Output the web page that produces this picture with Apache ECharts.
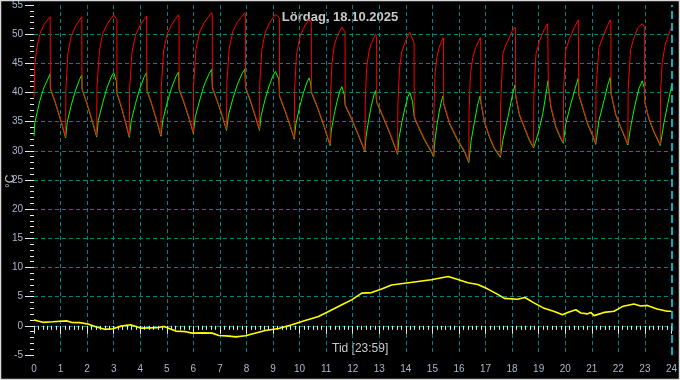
<!DOCTYPE html>
<html>
<head>
<meta charset="utf-8">
<script src="https://cdn.jsdelivr.net/npm/echarts@6/dist/echarts.min.js"></script>
<style>
html,body{margin:0;padding:0;background:#000;}
#c{width:680px;height:380px;}
</style>
</head>
<body>
<div id="c"></div>
<script>
// Title / labels
const titleText = 'Lördag, 18.10.2025';
const timeLabel = 'Tid [23:59]';
const unitLabel = '°C';
const hourTicks = [0, 24, 1];          // min, max, step (hours)
const tempTicks = [-5, 55, 5];         // min, max, step (°C)
const nowHour = 24;

// Red series [hour, °C]
const redSeries = [
[0,39.2],[0.03,44.5],[0.09,47.2],[0.22,50.0],[0.37,51.6],[0.52,52.5],[0.61,53.0],[0.615,40.8],
[0.81,38.3],[1.0,35.5],[1.19,32.4],
[1.20,40.5],[1.28,46.8],[1.40,49.7],[1.56,51.3],[1.71,52.4],[1.80,53.0],[1.805,40.7],
[1.99,38.3],[2.17,35.6],[2.36,32.6],
[2.37,40.8],[2.46,47.0],[2.58,50.0],[2.74,51.6],[2.90,52.7],[3.00,53.3],[3.12,52.5],[3.125,40.0],
[3.28,37.8],[3.43,35.3],[3.59,32.5],
[3.60,40.6],[3.69,46.9],[3.82,49.8],[3.98,51.4],[4.14,52.5],[4.24,53.1],[4.25,40.5],
[4.43,38.2],[4.60,35.6],[4.78,32.7],
[4.79,40.8],[4.88,47.1],[5.01,50.0],[5.18,51.6],[5.34,52.7],[5.44,53.3],[5.46,52.9],[5.465,40.7],
[5.64,38.5],[5.82,36.0],[6.00,33.2],
[6.01,41.3],[6.10,47.5],[6.24,50.4],[6.41,52.0],[6.59,53.1],[6.69,53.7],[6.71,53.3],[6.715,41.0],
[6.89,38.8],[7.07,36.4],[7.25,33.7],
[7.26,41.6],[7.35,47.6],[7.49,50.5],[7.66,52.1],[7.84,53.1],[7.94,53.7],[7.96,53.3],[7.965,41.0],
[8.14,38.8],[8.31,36.4],[8.49,33.7],
[8.50,41.5],[8.58,47.4],[8.70,50.2],[8.85,51.8],[9.00,52.8],[9.09,53.4],[9.24,52.8],[9.245,39.5],
[9.43,37.3],[9.61,34.9],[9.80,32.2],
[9.81,40.2],[9.88,46.4],[10.00,49.3],[10.14,51.0],[10.28,52.0],[10.36,52.6],[10.44,52.0],[10.445,40.2],
[10.68,37.5],[10.91,34.5],[11.15,31.1],
[11.16,39.0],[11.22,45.1],[11.30,48.0],[11.41,49.6],[11.52,50.6],[11.59,51.2],[11.71,50.4],[11.715,38.0],
[11.96,35.6],[12.21,32.9],[12.46,30.0],
[12.47,37.9],[12.52,43.9],[12.60,46.8],[12.70,48.4],[12.80,49.4],[12.86,50.0],[12.90,49.6],[12.905,38.5],
[13.16,35.8],[13.42,32.9],[13.69,29.6],
[13.70,37.8],[13.76,44.0],[13.85,47.0],[13.97,48.6],[14.08,49.7],[14.15,50.3],[14.31,48.5],[14.315,36.0],
[14.46,34.4],[14.71,32.0],[14.96,30.0],[15.05,29.2],
[15.06,37.2],[15.10,43.3],[15.17,46.1],[15.26,47.8],[15.35,48.8],[15.40,49.4],[15.42,49.0],[15.425,38.2],
[15.65,34.8],[15.96,31.9],[16.21,30.0],[16.37,28.2],
[16.38,36.6],[16.43,43.0],[16.52,46.0],[16.63,47.7],[16.74,48.8],[16.80,49.4],[16.82,49.0],[16.825,38.5],
[16.96,35.1],[17.15,32.5],[17.34,30.5],[17.56,29.1],
[17.57,38.0],[17.65,46.6],[17.75,48.0],[17.84,48.8],[18.02,50.7],[18.11,51.2],[18.13,50.8],[18.135,39.6],
[18.27,36.4],[18.46,34.2],[18.65,32.0],[18.81,30.7],
[18.82,39.5],[18.90,46.6],[19.03,48.8],[19.21,50.8],[19.34,51.8],[19.36,51.5],[19.365,41.2],
[19.46,37.7],[19.65,34.2],[19.84,32.2],[19.93,31.5],
[19.94,40.5],[20.02,47.3],[20.15,49.1],[20.34,51.1],[20.49,52.4],[20.51,52.2],[20.515,39.7],
[20.65,37.7],[20.84,34.8],[21.03,32.8],[21.15,31.3],
[21.16,40.5],[21.27,47.7],[21.46,50.0],[21.59,51.4],[21.69,52.4],[21.72,52.0],[21.725,40.0],
[21.90,36.4],[22.09,34.2],[22.27,32.2],[22.36,31.2],
[22.37,40.5],[22.46,47.3],[22.59,49.4],[22.74,51.1],[22.90,51.8],[22.98,51.2],[22.985,38.5],
[23.15,35.7],[23.34,33.4],[23.52,31.7],[23.58,31.1],
[23.59,40.0],[23.65,45.1],[23.77,48.3],[23.90,50.0],[24.0,51.2]
];

// Green series [hour, °C]
const greenSeries = [
[0,32.5],[0.03,34.8],[0.22,38.6],[0.37,40.8],[0.52,42.3],[0.61,43.2],[0.62,40.6],
[0.81,38.1],[1.0,35.3],[1.19,32.2],
[1.25,34.9],[1.40,37.8],[1.56,40.3],[1.71,42.2],[1.80,43.0],[1.81,40.5],
[1.99,38.1],[2.17,35.4],[2.36,32.4],
[2.42,35.2],[2.58,38.1],[2.74,40.7],[2.90,42.6],[3.00,43.4],[3.10,42.0],[3.125,39.8],
[3.28,37.6],[3.43,35.1],[3.59,32.3],
[3.66,35.1],[3.82,38.1],[3.98,40.6],[4.14,42.6],[4.24,43.4],[4.255,40.3],
[4.43,38.0],[4.60,35.4],[4.78,32.5],
[4.85,35.3],[5.01,38.2],[5.18,40.8],[5.34,42.7],[5.44,43.5],[5.465,40.5],
[5.64,38.3],[5.82,35.8],[6.00,33.0],
[6.07,35.8],[6.24,38.7],[6.41,41.3],[6.59,43.2],[6.69,44.0],[6.715,40.8],
[6.89,38.6],[7.07,36.2],[7.25,33.5],
[7.32,36.1],[7.49,39.0],[7.66,41.4],[7.84,43.3],[7.94,44.0],[7.965,40.8],
[8.14,38.6],[8.31,36.2],[8.49,33.5],
[8.55,36.0],[8.70,38.8],[8.85,41.1],[9.00,42.9],[9.09,43.6],[9.22,42.3],[9.245,39.3],
[9.43,37.1],[9.61,34.7],[9.80,32.0],
[9.86,34.6],[10.00,37.5],[10.14,39.9],[10.28,41.8],[10.36,42.5],[10.42,41.5],[10.445,40.0],
[10.68,37.3],[10.91,34.3],[11.15,30.9],
[11.19,33.4],[11.30,36.2],[11.41,38.5],[11.52,40.3],[11.59,41.0],[11.69,39.5],[11.715,37.8],
[11.96,35.4],[12.21,32.7],[12.46,29.8],
[12.50,32.4],[12.60,35.3],[12.70,37.7],[12.80,39.6],[12.86,40.3],[12.905,38.3],
[13.16,35.6],[13.42,32.7],[13.69,29.4],
[13.74,32.1],[13.85,34.9],[13.97,37.4],[14.08,39.3],[14.15,40.0],[14.25,38.5],[14.29,38.3],[14.315,35.8],
[14.46,34.2],[14.71,31.8],[14.96,29.8],[15.05,29.0],
[15.09,31.6],[15.17,34.4],[15.26,36.8],[15.35,38.7],[15.40,39.4],[15.425,38.0],
[15.65,34.6],[15.96,31.7],[16.21,29.8],[16.37,28.0],
[16.46,31.8],[16.59,35.1],[16.71,38.1],[16.80,39.4],[16.825,38.3],
[16.96,34.9],[17.15,32.3],[17.34,30.3],[17.56,28.9],
[17.65,31.8],[17.84,35.7],[18.02,39.7],[18.11,41.3],[18.135,39.4],
[18.27,36.2],[18.46,34.0],[18.65,31.8],[18.81,30.5],
[18.97,32.8],[19.15,36.2],[19.31,40.7],[19.35,42.0],[19.365,41.0],
[19.46,37.5],[19.65,34.0],[19.84,32.0],[19.93,31.3],
[20.02,34.6],[20.21,38.0],[20.40,41.1],[20.49,42.4],[20.515,39.5],
[20.65,37.5],[20.84,34.6],[21.03,32.6],[21.15,31.1],
[21.27,35.2],[21.46,38.6],[21.61,41.4],[21.70,42.6],[21.725,39.8],
[21.90,36.2],[22.09,34.0],[22.27,32.0],[22.36,31.0],
[22.46,34.0],[22.61,37.5],[22.77,40.6],[22.90,42.0],[22.98,40.8],[23.0,38.3],
[23.15,35.5],[23.34,33.2],[23.52,31.5],[23.58,30.9],
[23.71,34.6],[23.86,38.0],[24.0,41.1]
];

// Yellow series [hour, °C]
const yellowSeries = [
[0,1.0],[0.34,0.6],[0.71,0.7],[1.22,0.85],[1.41,0.6],[1.72,0.55],[2.03,0.3],[2.35,-0.2],
[2.66,-0.6],[2.97,-0.5],[3.28,-0.05],[3.63,0.2],[3.84,-0.1],[4.03,-0.4],[4.34,-0.35],[4.65,-0.3],
[4.9,-0.1],[5.11,-0.5],[5.34,-0.9],[5.71,-1.0],[5.96,-1.25],[6.34,-1.2],[6.71,-1.25],[6.96,-1.65],
[7.34,-1.77],[7.59,-1.9],[7.96,-1.7],[8.21,-1.4],[8.71,-0.8],[9.21,-0.45],[9.71,0.17],[10.21,0.9],
[10.71,1.6],[11.09,2.45],[11.59,3.6],[11.96,4.45],[12.34,5.6],[12.71,5.7],[13.09,6.3],[13.46,7.0],
[13.96,7.3],[14.46,7.6],[14.96,7.9],[15.59,8.45],[15.96,7.95],[16.34,7.4],[16.71,7.1],[17.09,6.3],
[17.46,5.4],[17.71,4.7],[18.21,4.55],[18.48,4.85],[18.84,3.9],[19.21,3.0],[19.59,2.45],[19.9,1.9],
[20.09,2.3],[20.4,2.75],[20.59,2.2],[20.84,2.05],[20.96,2.3],[21.09,1.75],[21.46,2.3],[21.84,2.5],
[22.15,3.3],[22.59,3.75],[22.84,3.4],[23.09,3.5],[23.46,2.9],[23.84,2.5],[24.0,2.5]
];

const FONT = "'Liberation Sans', Arial, sans-serif";
const chart = echarts.init(document.getElementById('c'), null, {renderer: 'canvas'});
const gridLine = {color: '#008282', type: [4, 3], width: 1};

chart.setOption({
  backgroundColor: '#000000',
  animation: false,
  grid: {left: 34, right: 6, top: 4, bottom: 25, containLabel: false},
  xAxis: {
    type: 'value', min: hourTicks[0], max: hourTicks[1], interval: hourTicks[2],
    axisLine: {show: false},
    axisTick: {show: true, length: 8, lineStyle: {color: '#e8e8e8'}},
    minorTick: {show: true, splitNumber: 6, length: 4, lineStyle: {color: '#e8e8e8'}},
    axisLabel: {color: '#a8b6cc', fontSize: 10, fontFamily: FONT, margin: 9},
    splitLine: {show: true, showMinLine: false, showMaxLine: false, lineStyle: gridLine}
  },
  yAxis: {
    type: 'value', min: tempTicks[0], max: tempTicks[1], interval: tempTicks[2],
    axisLine: {show: false},
    axisTick: {show: true, length: 9, lineStyle: {color: '#e8e8e8'}},
    minorTick: {show: true, splitNumber: 5, length: 4, lineStyle: {color: '#e8e8e8'}},
    axisLabel: {color: '#a8b6cc', fontSize: 10, fontFamily: FONT, margin: 11},
    splitLine: {show: true, showMinLine: false, showMaxLine: false, lineStyle: gridLine}
  },
  series: [
    {type: 'line', data: greenSeries, showSymbol: false, symbol: 'none',
     lineStyle: {color: '#00ff00', width: 1}, itemStyle: {color: '#00ff00'}},
    {type: 'line', data: redSeries, showSymbol: false, symbol: 'none',
     lineStyle: {color: '#ff0000', width: 1}, itemStyle: {color: '#ff0000'}},
    {type: 'line', data: yellowSeries, showSymbol: false, symbol: 'none',
     lineStyle: {color: '#ffff00', width: 1.6}, itemStyle: {color: '#ffff00'},
     markLine: {silent: true, symbol: ['none', 'none'], label: {show: false},
       lineStyle: {color: '#00e8ff', type: [8, 4], width: 1.5},
       data: [{xAxis: nowHour}]}}
  ],
  graphic: [
    {type: 'text', left: 'center', top: 11,
     style: {text: titleText, fill: '#c8c8c8', font: 'bold 13px ' + FONT}},
    {type: 'text', left: 332, top: 343,
     style: {text: timeLabel, fill: '#c8c8c8', font: '12px ' + FONT}},
    {type: 'text', x: 5, y: 188, rotation: Math.PI / 2,
     style: {text: unitLabel, fill: '#c8c8c8', font: '12px ' + FONT}},
    {type: 'rect', shape: {x: 0.5, y: 0.5, width: 679, height: 379},
     style: {fill: 'none', stroke: '#d8d8d8', lineWidth: 1.5}, z: 100}
  ]
});
</script>
</body>
</html>
